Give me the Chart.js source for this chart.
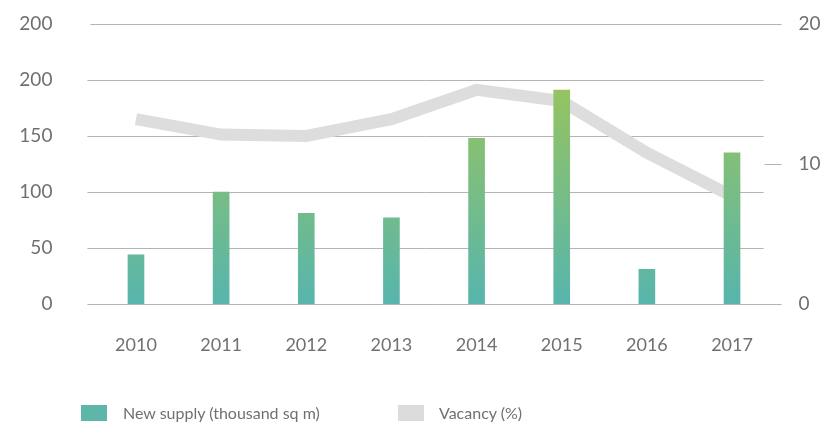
<!DOCTYPE html>
<html>
<head>
<meta charset="utf-8">
<script src="https://cdn.jsdelivr.net/npm/chart.js@4.4.1/dist/chart.umd.min.js"></script>
<style>
  html, body { margin: 0; padding: 0; background: #fff; }
  #wrap { position: relative; width: 828px; height: 430px; font-family: Lato, sans-serif; }
  #chart { position: absolute; left: 0; top: 0; }
  .key { position: absolute; top: 405px; width: 26px; height: 16px; }
  .key-label { position: absolute; top: 401px; font-size: 16px; color: #707070; line-height: 24px; white-space: nowrap; }
</style>
</head>
<body>
<div id="wrap">
  <canvas id="chart" width="828" height="430"></canvas>
  <div class="key" style="left:81px;background:#5cb6aa"></div>
  <div class="key-label" style="left:123px">New supply (thousand sq m)</div>
  <div class="key" style="left:398px;background:#dcdcdc"></div>
  <div class="key-label" style="left:439px">Vacancy (%)</div>
</div>
<script>
const years = ['2010', '2011', '2012', '2013', '2014', '2015', '2016', '2017'];
const newSupply = [44, 100, 81, 77, 148, 191, 31, 135];
const vacancy = [13.2, 12.1, 12.0, 13.2, 15.3, 14.5, 10.8, 7.7];
const leftTickLabels = ['0', '50', '100', '150', '200', '200'];
const rightTickLabels = ['0', '10', '20'];

const textColor = '#707070';
const gridColor = '#b4b4b4';

// horizontal rules, drawn under the datasets so bars and line sit on top
const gridRules = {
  id: 'gridRules',
  beforeDatasetsDraw(chart) {
    const { ctx, chartArea, scales } = chart;
    const y = scales.y;
    const left = chartArea.left - 6;
    const right = chartArea.right - 11;
    const farRight = chartArea.right + 7;
    ctx.save();
    ctx.strokeStyle = gridColor;
    ctx.lineWidth = 1;
    y.ticks.forEach((t, i) => {
      const py = Math.round(y.getPixelForValue(t.value)) + 0.5;
      const last = i === 0 || i === y.ticks.length - 1;
      ctx.beginPath();
      ctx.moveTo(last ? left + 3 * (i > 0) : left, py);
      ctx.lineTo(last ? farRight : right, py);
      ctx.stroke();
    });
    // short tick next to the right axis middle label
    const y1 = scales.y1;
    const py = Math.round(y1.getPixelForValue(10)) + 0.5;
    ctx.beginPath();
    ctx.moveTo(right + 1, py);
    ctx.lineTo(farRight, py);
    ctx.stroke();
    ctx.restore();
  }
};

function barFill(context) {
  const chart = context.chart;
  const { ctx, chartArea, scales } = chart;
  if (!chartArea) return '#5cb6aa';
  const g = ctx.createLinearGradient(0, scales.y.getPixelForValue(0), 0, scales.y.getPixelForValue(200));
  g.addColorStop(0, '#57b5ad');
  g.addColorStop(1, '#98c45e');
  return g;
}

// fixed width for a side axis; the big label gap shouldn't push the plot down
function sideFit(width) {
  return scale => {
    scale.width = width;
    scale.paddingTop = 11;
    scale.paddingBottom = 11;
  };
}

new Chart(document.getElementById('chart'), {
  type: 'bar',
  data: {
    labels: years,
    datasets: [
      {
        type: 'bar',
        label: 'New supply (thousand sq m)',
        data: newSupply,
        backgroundColor: barFill,
        barThickness: 16,
        yAxisID: 'y',
        order: 1
      },
      {
        type: 'line',
        label: 'Vacancy (%)',
        data: vacancy,
        borderColor: '#dddddd',
        borderWidth: 12,
        borderCapStyle: 'butt',
        borderJoinStyle: 'miter',
        pointRadius: 0,
        tension: 0,
        fill: false,
        yAxisID: 'y1',
        order: 2
      }
    ]
  },
  options: {
    responsive: false,
    animation: false,
    layout: { padding: { top: 24, left: 0, right: 0, bottom: 0 } },
    plugins: {
      legend: { display: false },
      tooltip: { enabled: false }
    },
    scales: {
      x: {
        grid: { display: false, drawTicks: false },
        border: { display: false },
        ticks: {
          color: textColor,
          font: { family: 'Lato', size: 18 },
          padding: 30,
          maxRotation: 0
        },
        afterFit(scale) { scale.height = 126; }
      },
      y: {
        position: 'left',
        min: 0,
        max: 250,
        grid: { display: false, drawTicks: false, tickLength: 0 },
        border: { display: false },
        ticks: {
          stepSize: 50,
          color: textColor,
          font: { family: 'Lato', size: 19 },
          padding: 41,
          callback: (v, i) => leftTickLabels[i]
        },
        afterFit: sideFit(93.4)
      },
      y1: {
        position: 'right',
        min: 0,
        max: 20,
        grid: { display: false, drawTicks: false, tickLength: 0 },
        border: { display: false },
        ticks: {
          stepSize: 10,
          color: textColor,
          font: { family: 'Lato', size: 19 },
          padding: 24,
          callback: (v, i) => rightTickLabels[i]
        },
        afterFit: sideFit(53.4)
      }
    }
  },
  plugins: [gridRules]
});
</script>
</body>
</html>
